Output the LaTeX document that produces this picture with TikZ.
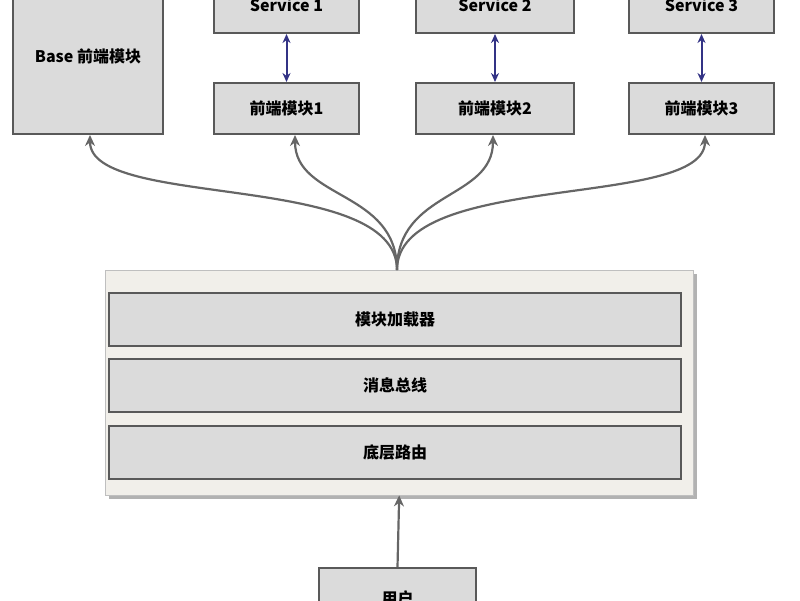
\documentclass[tikz,border=0pt]{standalone}
\usepackage{fontspec}
\setmainfont{Liberation Sans}
\newfontfamily\cjk{Noto Sans CJK SC}
\usetikzlibrary{arrows.meta}
\begin{document}
\begin{tikzpicture}[x=1pt,y=-1pt,
 box/.style={draw=black!65,line width=2pt,fill=black!14,font=\cjk\bfseries\fontsize{16}{19}\selectfont,inner sep=0},
 garr/.style={draw=black!60,line width=2.2pt,-{Stealth[length=11pt,width=10pt]}},
 barr/.style={draw=blue!40!black!80,line width=2pt,{Stealth[length=9pt,width=8pt]}-{Stealth[length=9pt,width=8pt]}}]
\useasboundingbox (0,0) rectangle (800,600);
\fill[black!30] (109,274) rectangle (697,499);
\node[draw=black!25,fill={rgb,255:red,241;green,239;blue,234},minimum width=588,minimum height=225,anchor=north west,inner sep=0] (cont) at (105,270) {};
\node[box,minimum width=150,minimum height=155,anchor=north west] (base) at (12,-22) {Base 前端模块};
\node[box,minimum width=145,minimum height=56,anchor=north west] (s1) at (213,-24) {Service 1};
\node[box,minimum width=158,minimum height=56,anchor=north west] (s2) at (415,-24) {Service 2};
\node[box,minimum width=145,minimum height=56,anchor=north west] (s3) at (628,-24) {Service 3};
\node[box,minimum width=145,minimum height=51,anchor=north west] (f1) at (213,82) {前端模块1};
\node[box,minimum width=158,minimum height=51,anchor=north west] (f2) at (415,82) {前端模块2};
\node[box,minimum width=145,minimum height=51,anchor=north west] (f3) at (628,82) {前端模块3};
\node[box,minimum width=572,minimum height=53,anchor=north west] (r1) at (108,292) {模块加载器};
\node[box,minimum width=572,minimum height=53,anchor=north west] (r2) at (108,358) {消息总线};
\node[box,minimum width=572,minimum height=53,anchor=north west] (r3) at (108,425) {底层路由};
\node[box,minimum width=157,minimum height=60,anchor=north west] (user) at (318,567) {用户};
\coordinate (hub) at (397,270);
\draw[barr] (s1.south) -- (f1.north);
\draw[barr] (s2.south) -- (f2.north);
\draw[barr] (s3.south) -- (f3.north);
\draw[garr] (hub) .. controls (397,170) and (90,210) .. (90,135);
\draw[garr] (hub) .. controls (397,190) and (295,200) .. (295,135);
\draw[garr] (hub) .. controls (397,190) and (493,200) .. (493,135);
\draw[garr] (hub) .. controls (397,170) and (705,210) .. (705,135);
\draw[garr] (user.north) -- (cont.south);
\end{tikzpicture}
\end{document}
